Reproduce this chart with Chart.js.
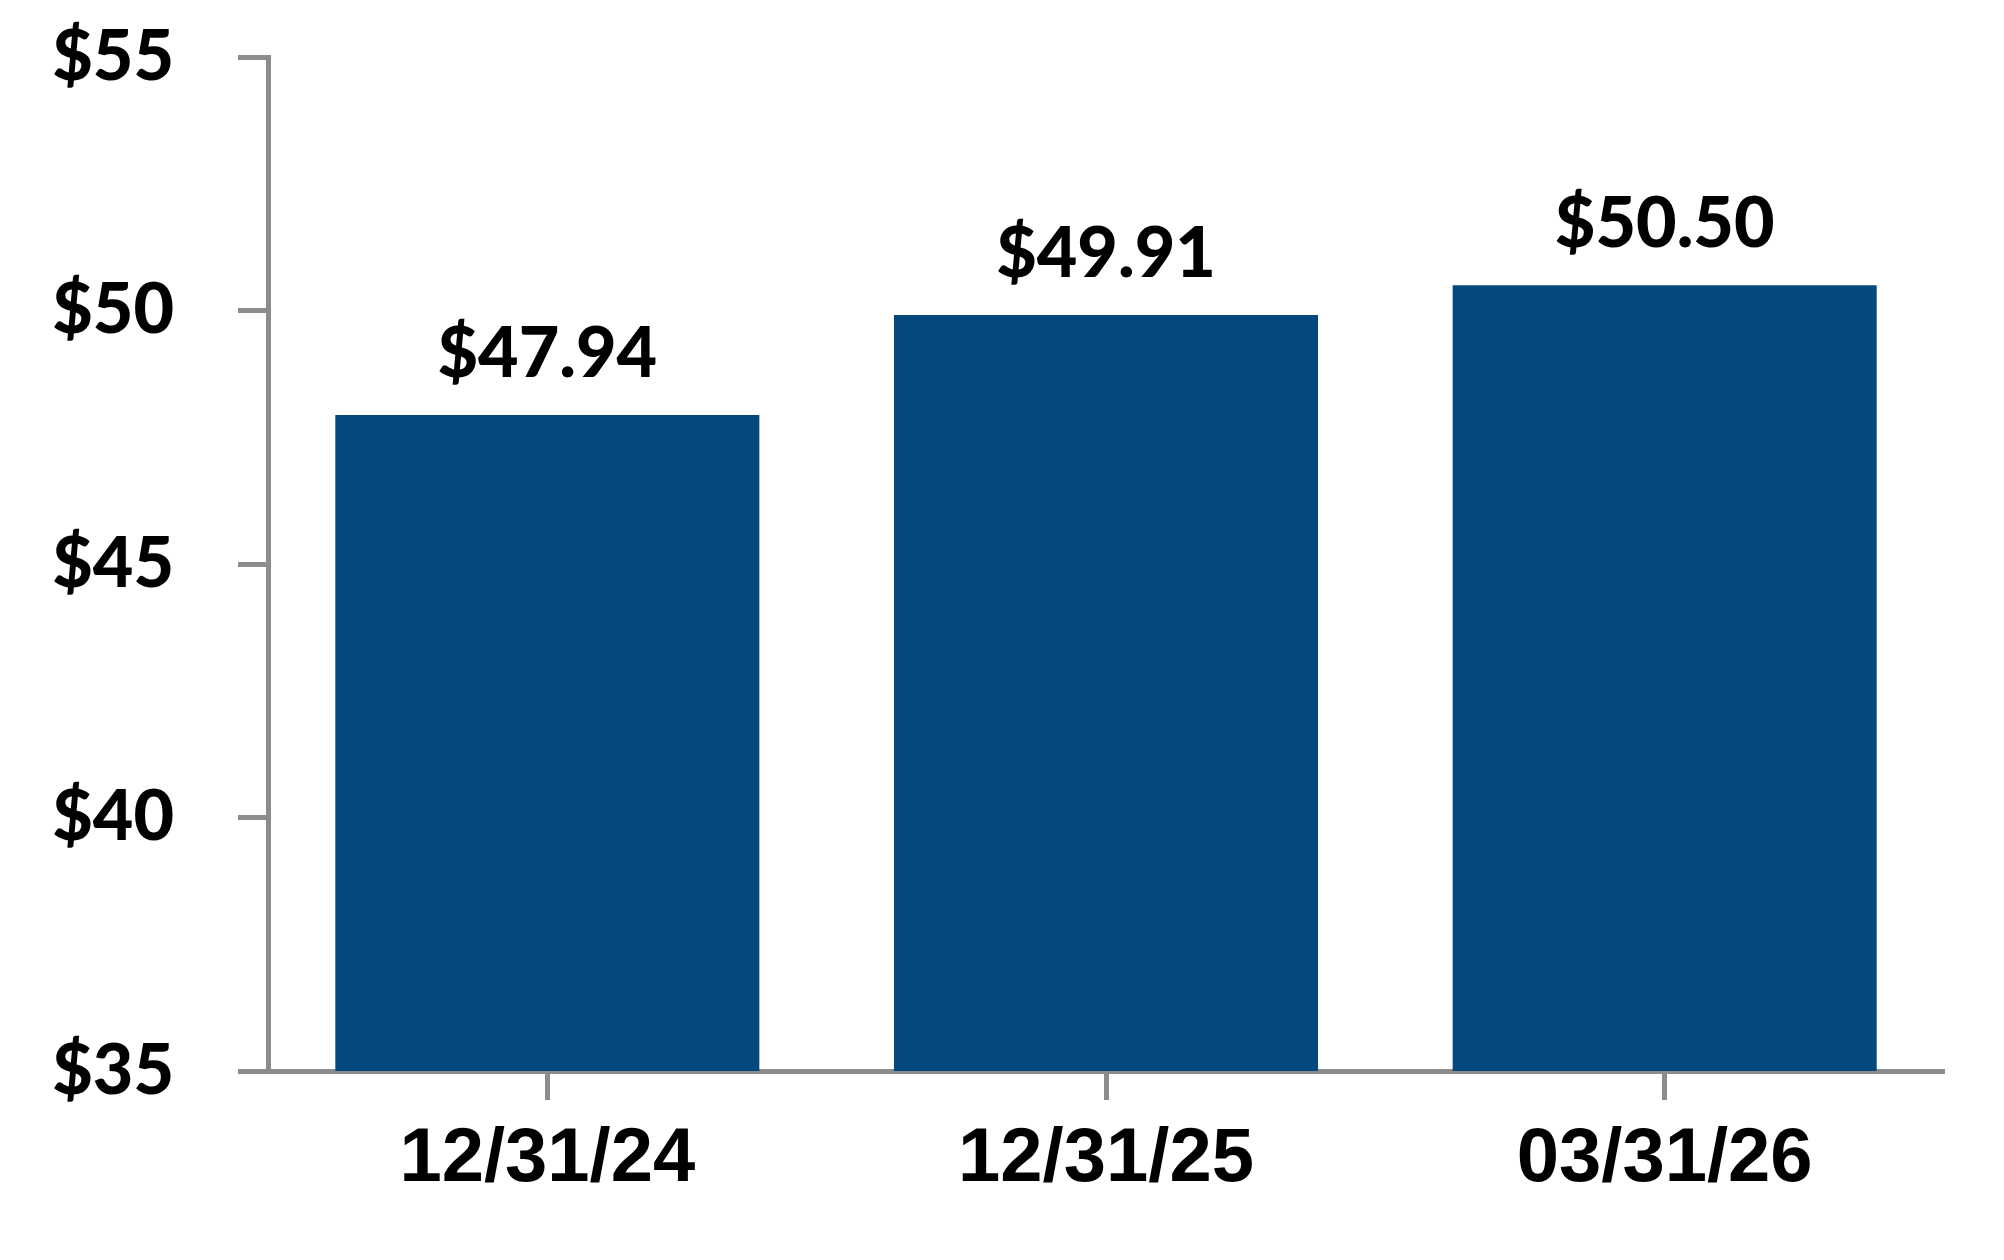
<!DOCTYPE html>
<html>
<head>
<meta charset="utf-8">
<title>Book value per share</title>
<script src="https://cdn.jsdelivr.net/npm/chart.js@4.4.1/dist/chart.umd.min.js"></script>
<style>
  body { margin: 0; background: #fff; }
  #wrap { width: 2004px; height: 1260px; }
</style>
</head>
<body>
<div id="wrap"><canvas id="myChart" width="2004" height="1260"></canvas></div>
<script>
var categories = ["12/31/24", "12/31/25", "03/31/26"];
var values = [47.94, 49.91, 50.50];
var yMin = 35;
var yMax = 55;
var yStep = 5;

var barColor = "#03497e";
var axisColor = "#8c8c8c";

// value labels above each bar
var valueLabels = {
  id: "valueLabels",
  afterDatasetsDraw: function(chart) {
    var ctx = chart.ctx;
    var meta = chart.getDatasetMeta(0);
    ctx.save();
    ctx.font = "900 70px Lato";
    ctx.fillStyle = "#000";
    ctx.textAlign = "center";
    ctx.textBaseline = "alphabetic";
    meta.data.forEach(function(bar, i) {
      ctx.fillText("$" + values[i].toFixed(2), bar.x, bar.y - 38);
    });
    ctx.restore();
  }
};

window.onload = function() {
  const ctx = document.getElementById("myChart").getContext("2d");
  var chart = new Chart(ctx, {
    type: "bar",
    data: {
      labels: categories,
      datasets: [
        {
          label: "Value",
          backgroundColor: barColor,
          borderWidth: 0,
          barPercentage: 0.759,
          categoryPercentage: 1,
          data: values
        }
      ]
    },
    options: {
      responsive: false,
      animation: false,
      devicePixelRatio: 1,
      layout: {
        padding: { left: 0, right: 60, top: 57, bottom: 0 }
      },
      plugins: {
        legend: { display: false },
        tooltip: { enabled: false }
      },
      scales: {
        x: {
          z: 1,
          grid: {
            offset: false,
            drawOnChartArea: false,
            drawTicks: true,
            tickLength: 29,
            tickWidth: 5,
            tickColor: axisColor
          },
          border: { display: true, color: axisColor, width: 5 },
          ticks: {
            color: "#000",
            padding: 14,
            font: { family: "'Liberation Sans'", weight: "bold", size: 76 }
          },
          afterFit: function(s) {
            s.height = 189;
            s.paddingLeft = 0;
            s.paddingRight = 0;
          }
        },
        y: {
          z: 1,
          min: yMin,
          max: yMax,
          grid: {
            drawOnChartArea: false,
            drawTicks: true,
            tickLength: 30,
            tickWidth: 5,
            tickColor: axisColor
          },
          border: { display: true, color: axisColor, width: 5 },
          ticks: {
            stepSize: yStep,
            color: "#000",
            padding: 64,
            font: { family: "Lato", weight: "900", size: 70 },
            callback: function(v) { return "$" + v; }
          },
          afterFit: function(s) {
            s.width = 268;
            s.paddingTop = 0;
            s.paddingBottom = 0;
          }
        }
      }
    },
    plugins: [valueLabels]
  });
};
</script>
</body>
</html>
